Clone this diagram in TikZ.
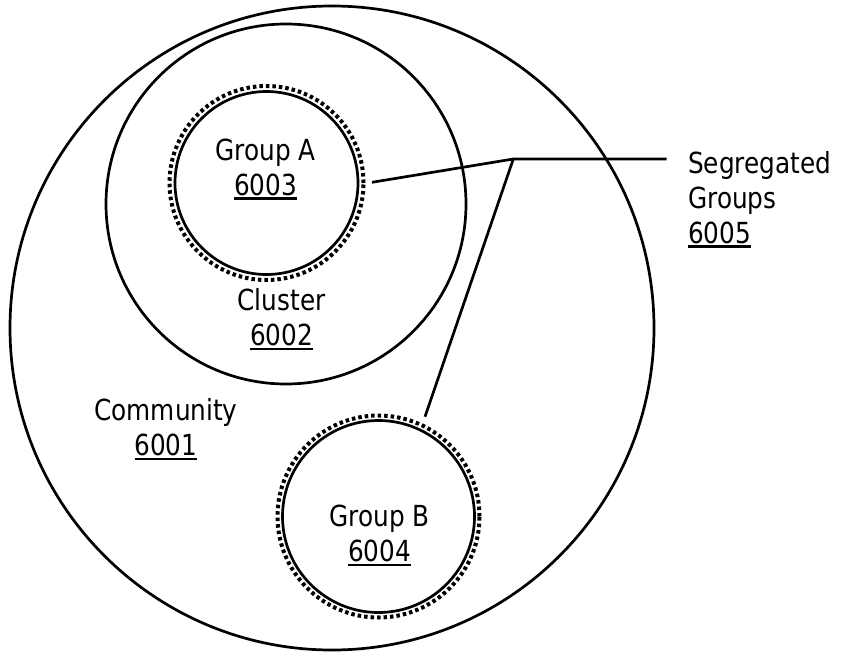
\documentclass[tikz,border=0pt]{standalone}
\usepackage{fontspec}
\setmainfont{DejaVu Sans}[FakeStretch=0.853]
% underlined reference numeral
\newsavebox\ulbox
\newcommand\uln[1]{\sbox\ulbox{#1}\rlap{\rule[-4.6pt]{\wd\ulbox}{2.6pt}}\usebox\ulbox}
\begin{document}
\begin{tikzpicture}[x=1pt,y=-1pt,
  ring/.style={circle, draw, line width=2.7pt, inner sep=0pt, outer sep=0pt},
  dotring/.style={circle, draw, line width=4pt, dash pattern=on 3.5pt off 3pt, inner sep=0pt, outer sep=0pt},
  lbl/.style={font=\fontsize{29}{35}\selectfont, inner sep=0pt, align=center, anchor=base},
  leader/.style={line width=2.7pt}]
\useasboundingbox (0,0) rectangle (843,653);

% nested sets
\node[ring, minimum size=644pt] (community) at (332,328) {};
\node[ring, minimum size=360pt] (cluster) at (286,204) {};
\node[ring, minimum size=183pt] (groupa) at (266.5,183) {};
\node[dotring, minimum size=194pt] (groupadots) at (266.5,183) {};
\node[ring, minimum size=192pt] (groupb) at (378.5,516.5) {};
\node[dotring, minimum size=202pt] (groupbdots) at (378.5,516.5) {};

% labels (base anchor sits on the last line)
\node[lbl] (lbla) at (265.5,195) {Group A\\\uln{6003}};
\node[lbl] (lblcluster) at (281.5,345.7) {Cluster\\\uln{6002}};
\node[lbl] (lblcommunity) at (166,455.5) {Community\\\uln{6001}};
\node[lbl] (lblb) at (379.5,561.7) {Group B\\\uln{6004}};
\node[lbl, align=left, anchor=base west] (lblseg) at (688,243) {Segregated\\Groups\\\uln{6005}};

% leader lines
\coordinate (aend) at (372,182.3);
\coordinate (bend) at (425,416.7);
\coordinate (junc) at (513.3,159);
\coordinate (segend) at (666.7,159);
\draw[leader] (aend) -- (junc) -- (segend);
\draw[leader] (bend) -- (junc);
\end{tikzpicture}
\end{document}
